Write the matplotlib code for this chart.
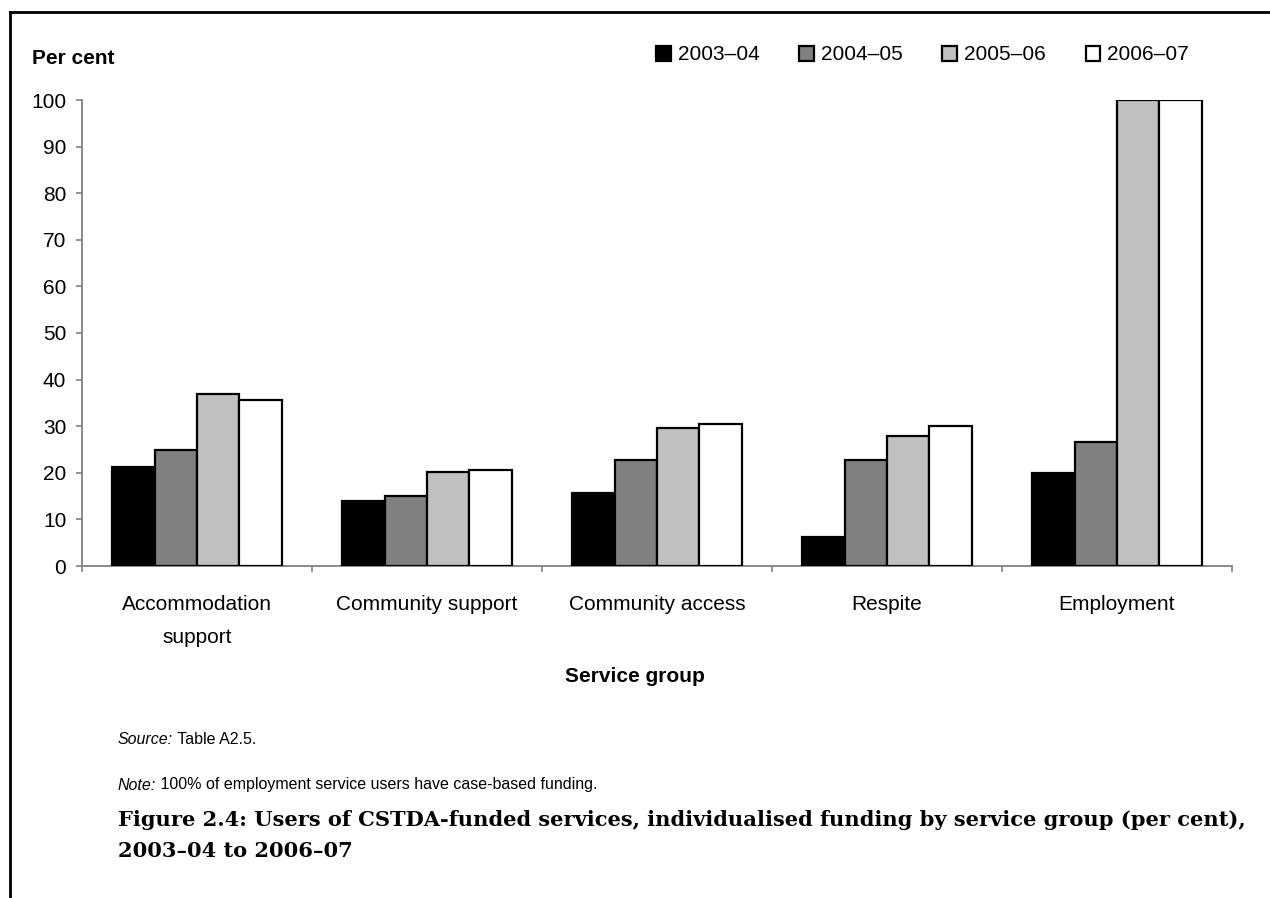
import matplotlib
matplotlib.use("Agg")
import matplotlib.pyplot as plt
import numpy as np
from matplotlib.lines import Line2D
from matplotlib.ticker import FixedLocator

plt.rcParams['font.family'] = ['Liberation Sans', 'DejaVu Sans']

# Service groups and percentage of users with individualised funding
categories = ["Accommodation\nsupport", "Community support", "Community access",
              "Respite", "Employment"]
years = ["2003\u201304", "2004\u201305", "2005\u201306", "2006\u201307"]
v_2003_04 = [21.2, 13.9, 15.6, 6.2, 20.0]
v_2004_05 = [25.0, 15.1, 22.8, 22.8, 26.7]
v_2005_06 = [37.0, 20.2, 29.6, 28.0, 100.0]
v_2006_07 = [35.6, 20.6, 30.5, 30.1, 100.0]
yticks = list(range(0, 101, 10))

series = [v_2003_04, v_2004_05, v_2005_06, v_2006_07]
fills = ["#000000", "#808080", "#c0c0c0", "#ffffff"]

W, H = 1270, 898
fig = plt.figure(figsize=(W / 100, H / 100), dpi=100)
fig.patch.set_facecolor("white")

ax = fig.add_axes([82 / W, 1 - 566 / H, (1232 - 82) / W, (566 - 100) / H])

x = np.arange(len(categories))
bw = 0.184
handles = []
for i, (vals, col) in enumerate(zip(series, fills)):
    b = ax.bar(x + (i - 1.5) * bw, vals, width=bw, color=col,
               edgecolor="black", linewidth=1.6, label=years[i], zorder=3)
    handles.append(b)

ax.set_xlim(-0.5, len(categories) - 0.5)
ax.set_ylim(0, 100)
ax.set_yticks(yticks)
ax.set_yticklabels([str(t) for t in yticks])
ax.set_xticks(x)
ax.set_xticklabels(categories, linespacing=1.9)
ax.xaxis.set_minor_locator(FixedLocator(np.arange(-0.5, len(categories), 1.0)))

for s in ["top", "right"]:
    ax.spines[s].set_visible(False)
for s in ["left", "bottom"]:
    ax.spines[s].set_color("#808080")
    ax.spines[s].set_linewidth(1.3)

ax.tick_params(axis="y", which="major", direction="out", length=4.3, width=1.2,
               color="#808080", labelsize=15, pad=7, labelcolor="black")
ax.tick_params(axis="x", which="major", length=0, labelsize=15, pad=21,
               labelcolor="black")
ax.tick_params(axis="x", which="minor", direction="out", length=4.3, width=1.2,
               color="#808080")

# Axis titles
fig.text(32 / W, 1 - 58 / H, "Per cent", fontsize=15, fontweight="bold",
         ha="left", va="center")
fig.text(635 / W, 1 - 676 / H, "Service group", fontsize=15, fontweight="bold",
         ha="center", va="center")

# Legend across the top
fig.legend(handles=handles, labels=years, loc="center left",
           bbox_to_anchor=(656 / W, 1 - 55 / H), ncol=4, frameon=False,
           fontsize=15, handlelength=0.7, handleheight=0.7,
           handletextpad=0.35, columnspacing=1.9, borderpad=0,
           borderaxespad=0)

# Source and note lines
t1 = fig.text(118 / W, 1 - 740 / H, "Source:", fontsize=11.5, style="italic",
              ha="left", va="center")
ax.annotate(" Table A2.5.", xy=(1, 0.5), xycoords=t1, fontsize=11.5,
            ha="left", va="center", annotation_clip=False)
t2 = fig.text(118 / W, 1 - 785 / H, "Note:", fontsize=11.5, style="italic",
              ha="left", va="center")
ax.annotate(" 100% of employment service users have case-based funding.",
            xy=(1, 0.5), xycoords=t2, fontsize=11.5, ha="left", va="center",
            annotation_clip=False)

# Figure caption
cap_font = ['DejaVu Serif']
fig.text(118 / W, 1 - 820 / H,
         "Figure 2.4: Users of CSTDA-funded services, individualised funding "
         "by service group (per cent),",
         fontsize=15.1, fontweight="bold", family=cap_font, ha="left", va="center")
fig.text(118 / W, 1 - 851 / H, "2003\u201304 to 2006\u201307",
         fontsize=15.1, fontweight="bold", family=cap_font, ha="left", va="center")

# Page frame lines
fig.add_artist(Line2D([10 / W, 10 / W], [0, 1 - 12 / H], transform=fig.transFigure,
                      color="black", linewidth=2))
fig.add_artist(Line2D([10 / W, 1], [1 - 12 / H, 1 - 12 / H],
                      transform=fig.transFigure, color="black", linewidth=2))

fig.savefig("out.png", dpi=100, facecolor="white")
